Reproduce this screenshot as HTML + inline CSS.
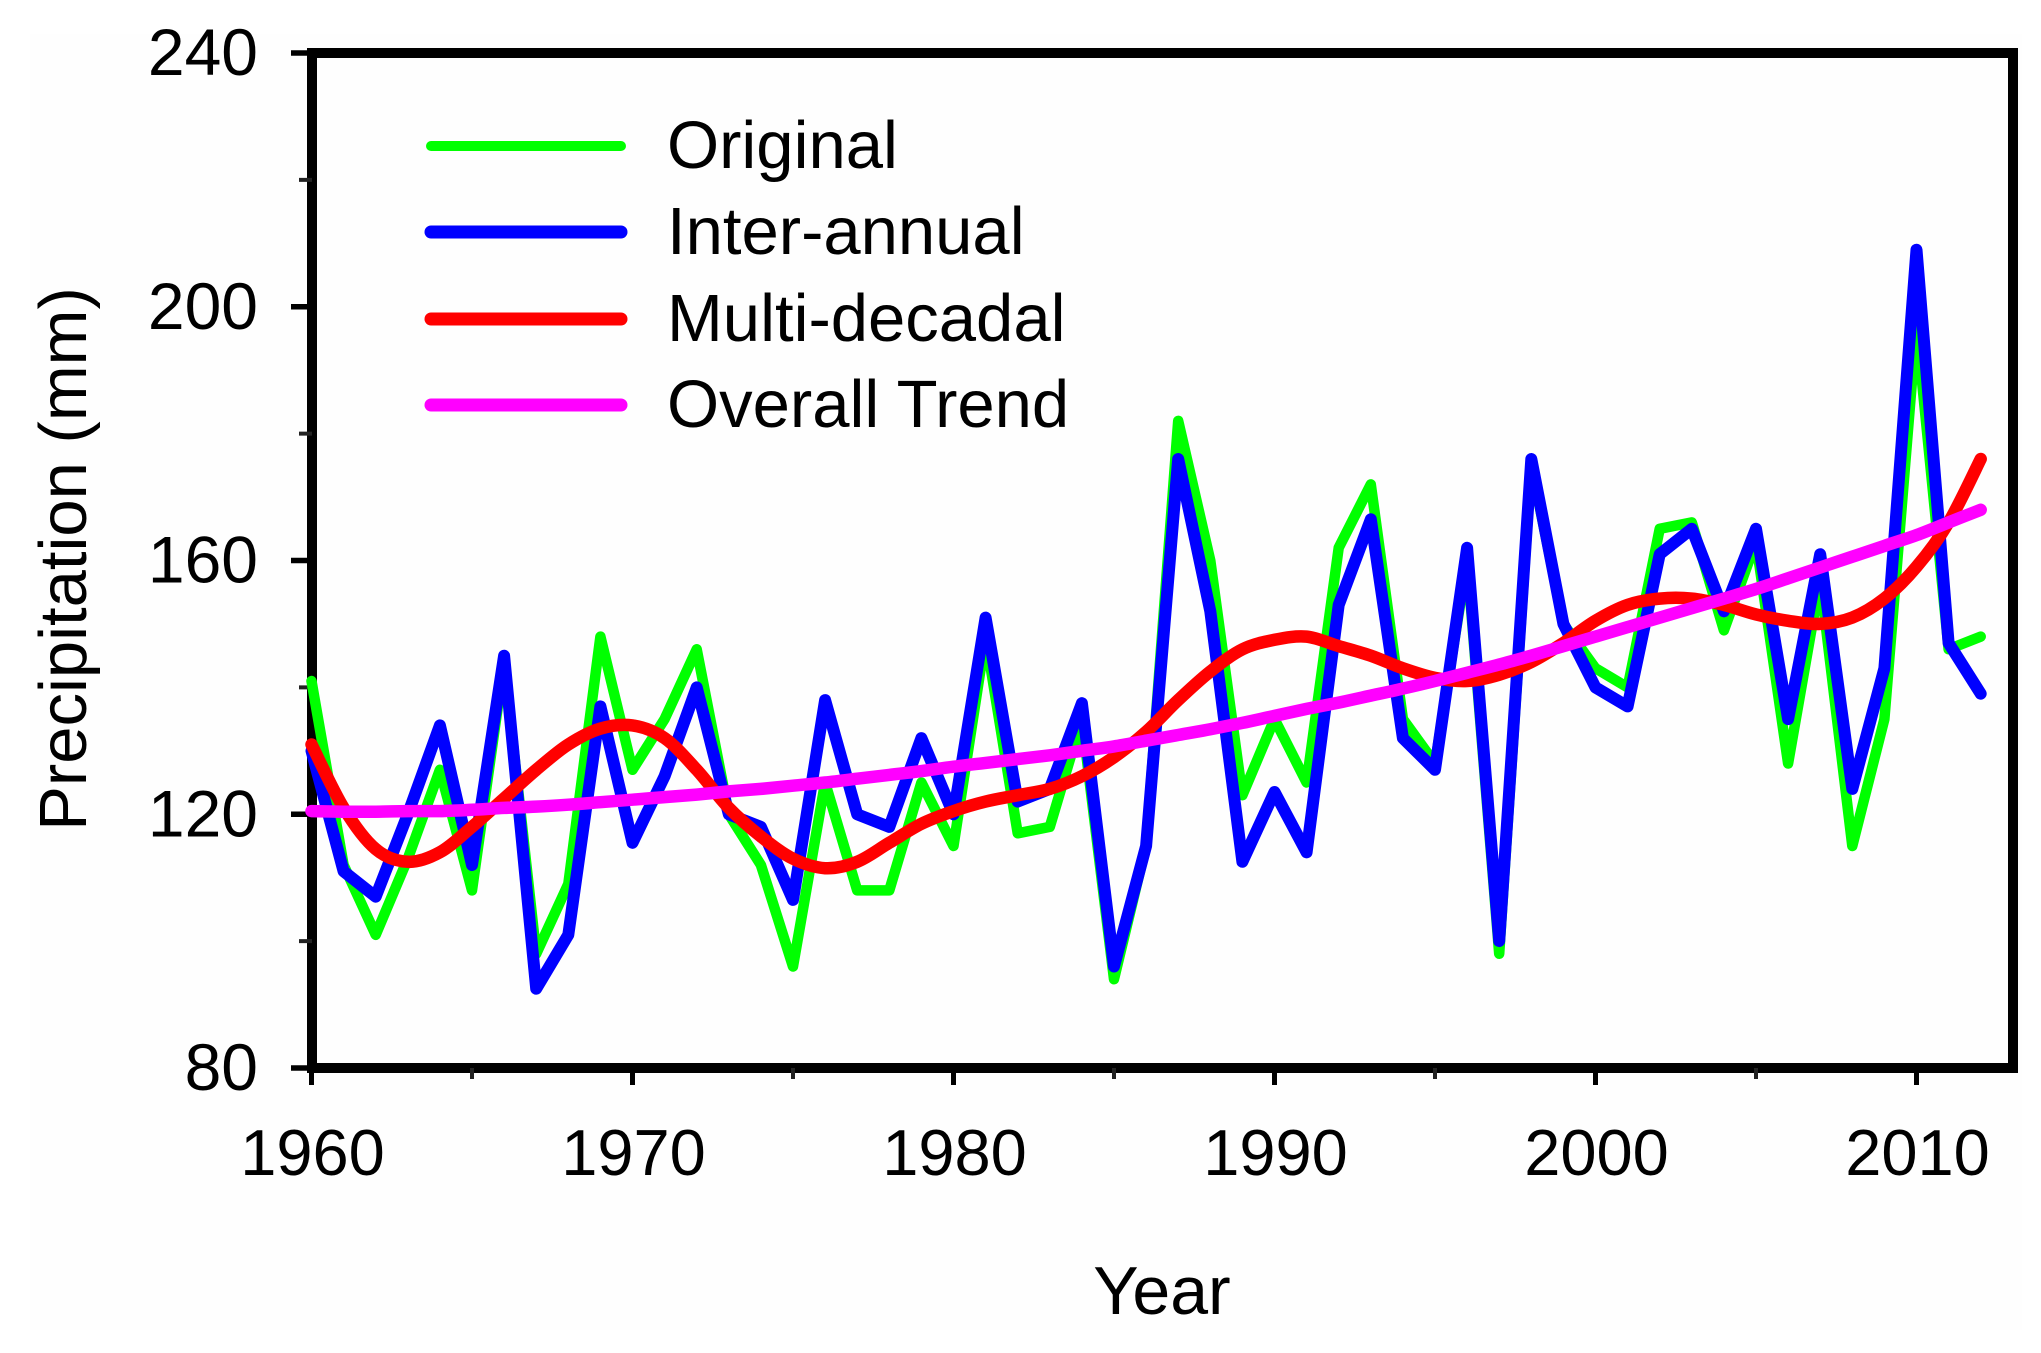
<!DOCTYPE html>
<html lang="en">
<head>
<meta charset="utf-8">
<title>Precipitation 1960-2012</title>
<style>
html,body{margin:0;padding:0;background:#fff;width:2041px;height:1353px;overflow:hidden}
svg{display:block}
text{font-family:"Liberation Sans",Arial,sans-serif;fill:#000}
</style>
</head>
<body>
<svg id="chart" xmlns="http://www.w3.org/2000/svg" width="2041" height="1353" viewBox="0 0 2041 1353">
  <rect x="30" y="34" width="1992" height="1296" fill="#fefefe"/>
  <g id="axes"></g>
  <g id="series"></g>
  <text transform="translate(86 559) rotate(-90)" text-anchor="middle" font-size="67">Precipitation (mm)</text>
  <text x="1162" y="1314" text-anchor="middle" font-size="68">Year</text>
  <g>
    <line x1="431" y1="146" x2="621" y2="146" stroke="#00ff00" stroke-width="10" stroke-linecap="round"/>
    <text x="667" y="168" font-size="67">Original</text>
    <line x1="431" y1="232" x2="621" y2="232" stroke="#0000ff" stroke-width="13" stroke-linecap="round"/>
    <text x="667" y="254" font-size="67">Inter-annual</text>
    <line x1="431" y1="319" x2="621" y2="319" stroke="#ff0000" stroke-width="13" stroke-linecap="round"/>
    <text x="667" y="341" font-size="67">Multi-decadal</text>
    <line x1="431" y1="405" x2="621" y2="405" stroke="#ff00ff" stroke-width="13" stroke-linecap="round"/>
    <text x="667" y="427" font-size="67">Overall Trend</text>
  </g>
</svg>
<script>
const years = [1960,1961,1962,1963,1964,1965,1966,1967,1968,1969,1970,1971,1972,1973,1974,1975,1976,1977,1978,1979,1980,1981,1982,1983,1984,1985,1986,1987,1988,1989,1990,1991,1992,1993,1994,1995,1996,1997,1998,1999,2000,2001,2002,2003,2004,2005,2006,2007,2008,2009,2010,2011,2012];
const original = [141,112,101,113,127,108,144,98,109,148,127,135,146,120,112,96,125,108,108,125,115,148,117,118,135,94,115,182,160,123,135,125,162,172,135,128,160,98,175,150,143,140,165,166,149,163,128,157,115,135,197,146,148];
const interAnnual = [130,111,107,120,134,112,145,92.5,101,137,115.5,126,140,120,118,106.5,138,120,118,132,120,151,122,124,137.5,96,115,176,152,112.5,123.5,114,153,166.5,132,127,162,100,176,150,140,137,161,165,152,165,135,161,124,143,209,147,139];
const multiDecadal = [131,121,114.5,112.5,114,118,122.5,127,131,133.5,134,132,127,121,116.5,113,111.5,112.5,115.5,118.5,120.5,122,123,124,126,129,133,138,142.5,146,147.5,148,146.5,145,143,141.5,141,142,144,147,150.5,153,154,154,153,151.5,150.5,150,151,154,159,166,176];
const overallTrend = [120.5,120.4,120.4,120.5,120.5,120.7,121,121.2,121.5,121.9,122.3,122.7,123.1,123.6,124,124.5,125,125.6,126.2,126.8,127.5,128.1,128.7,129.3,130,130.7,131.6,132.5,133.4,134.4,135.5,136.6,137.6,138.7,139.8,141,142.3,143.6,145,146.5,148,149.5,151,152.5,154,155.5,157.2,158.9,160.6,162.3,164,166,168];
const yTickValues = [80,120,160,200,240];
const yMinorValues = [100,140,180,220];
const xTickValues = [1960,1970,1980,1990,2000,2010];
const xMinorValues = [1965,1975,1985,1995,2005];

const NS = 'http://www.w3.org/2000/svg';
const axisLeft = 312, axisRight = 2013, axisTop = 53, axisBottom = 1068;
const xOrigin = 311.5, xPerYear = 32.1;
function xScale(year) { return xOrigin + (year - 1960) * xPerYear; }
function yScale(val) { return axisBottom - (val - 80) * (axisBottom - axisTop) / 160; }

function make(tag, parent, attrs, content) {
  const el = document.createElementNS(NS, tag);
  for (const k in attrs) el.setAttribute(k, attrs[k]);
  if (content !== undefined) el.textContent = content;
  parent.appendChild(el);
  return el;
}

const axes = document.getElementById('axes');
const seriesGroup = document.getElementById('series');

const frame = make('rect', axes, {x: axisLeft, y: axisTop, width: axisRight - axisLeft, height: axisBottom - axisTop, fill: 'none', stroke: '#000', 'stroke-width': 10});



yTickValues.forEach(function (v) {
  const t = make('line', axes, {x1: 291, x2: axisLeft, y1: yScale(v), y2: yScale(v), stroke: '#000', 'stroke-width': 5.5});
  
  
  const l = make('text', axes, {x: 258, y: yScale(v) + 22, 'text-anchor': 'end', 'font-size': 66}, String(v));
  
  
});
yMinorValues.forEach(function (v) {
  const t = make('line', axes, {x1: 299, x2: axisLeft, y1: yScale(v), y2: yScale(v), stroke: '#222', 'stroke-width': 4});
  
  
});
xTickValues.forEach(function (v) {
  const t = make('line', axes, {x1: xScale(v), x2: xScale(v), y1: axisBottom, y2: 1085, stroke: '#000', 'stroke-width': 5});
  
  
  const l = make('text', axes, {x: xScale(v) + 1, y: 1175, 'text-anchor': 'middle', 'font-size': 65}, String(v));
  
  
});
xMinorValues.forEach(function (v) {
  const t = make('line', axes, {x1: xScale(v), x2: xScale(v), y1: axisBottom, y2: 1079, stroke: '#222', 'stroke-width': 4});
  
  
});

function straightPath(vals) {
  return vals.map(function (v, i) {
    return (i ? 'L' : 'M') + xScale(years[i]).toFixed(1) + ' ' + yScale(v).toFixed(1);
  }).join(' ');
}
function smoothPath(vals) {
  const p = vals.map(function (v, i) { return [xScale(years[i]), yScale(v)]; });
  let d = 'M' + p[0][0].toFixed(1) + ' ' + p[0][1].toFixed(1);
  for (let i = 0; i < p.length - 1; i++) {
    const a = p[Math.max(i - 1, 0)], b = p[i], c = p[i + 1], e = p[Math.min(i + 2, p.length - 1)];
    d += ' C' + (b[0] + (c[0] - a[0]) / 6).toFixed(1) + ' ' + (b[1] + (c[1] - a[1]) / 6).toFixed(1) + ' ' +
         (c[0] - (e[0] - b[0]) / 6).toFixed(1) + ' ' + (c[1] - (e[1] - b[1]) / 6).toFixed(1) + ' ' +
         c[0].toFixed(1) + ' ' + c[1].toFixed(1);
  }
  return d;
}
function drawSeries(d, color, width) {
  return make('path', seriesGroup, {d: d, fill: 'none', stroke: color, 'stroke-width': width, 'stroke-linejoin': 'round', 'stroke-linecap': 'round'});
}

const lineOriginal = drawSeries(straightPath(original), '#00ff00', 10.5);


const lineInter = drawSeries(straightPath(interAnnual), '#0000ff', 12);


const lineMulti = drawSeries(smoothPath(multiDecadal), '#ff0000', 12.5);


const lineTrend = drawSeries(smoothPath(overallTrend), '#ff00ff', 12.5);


</script>
</body>
</html>
